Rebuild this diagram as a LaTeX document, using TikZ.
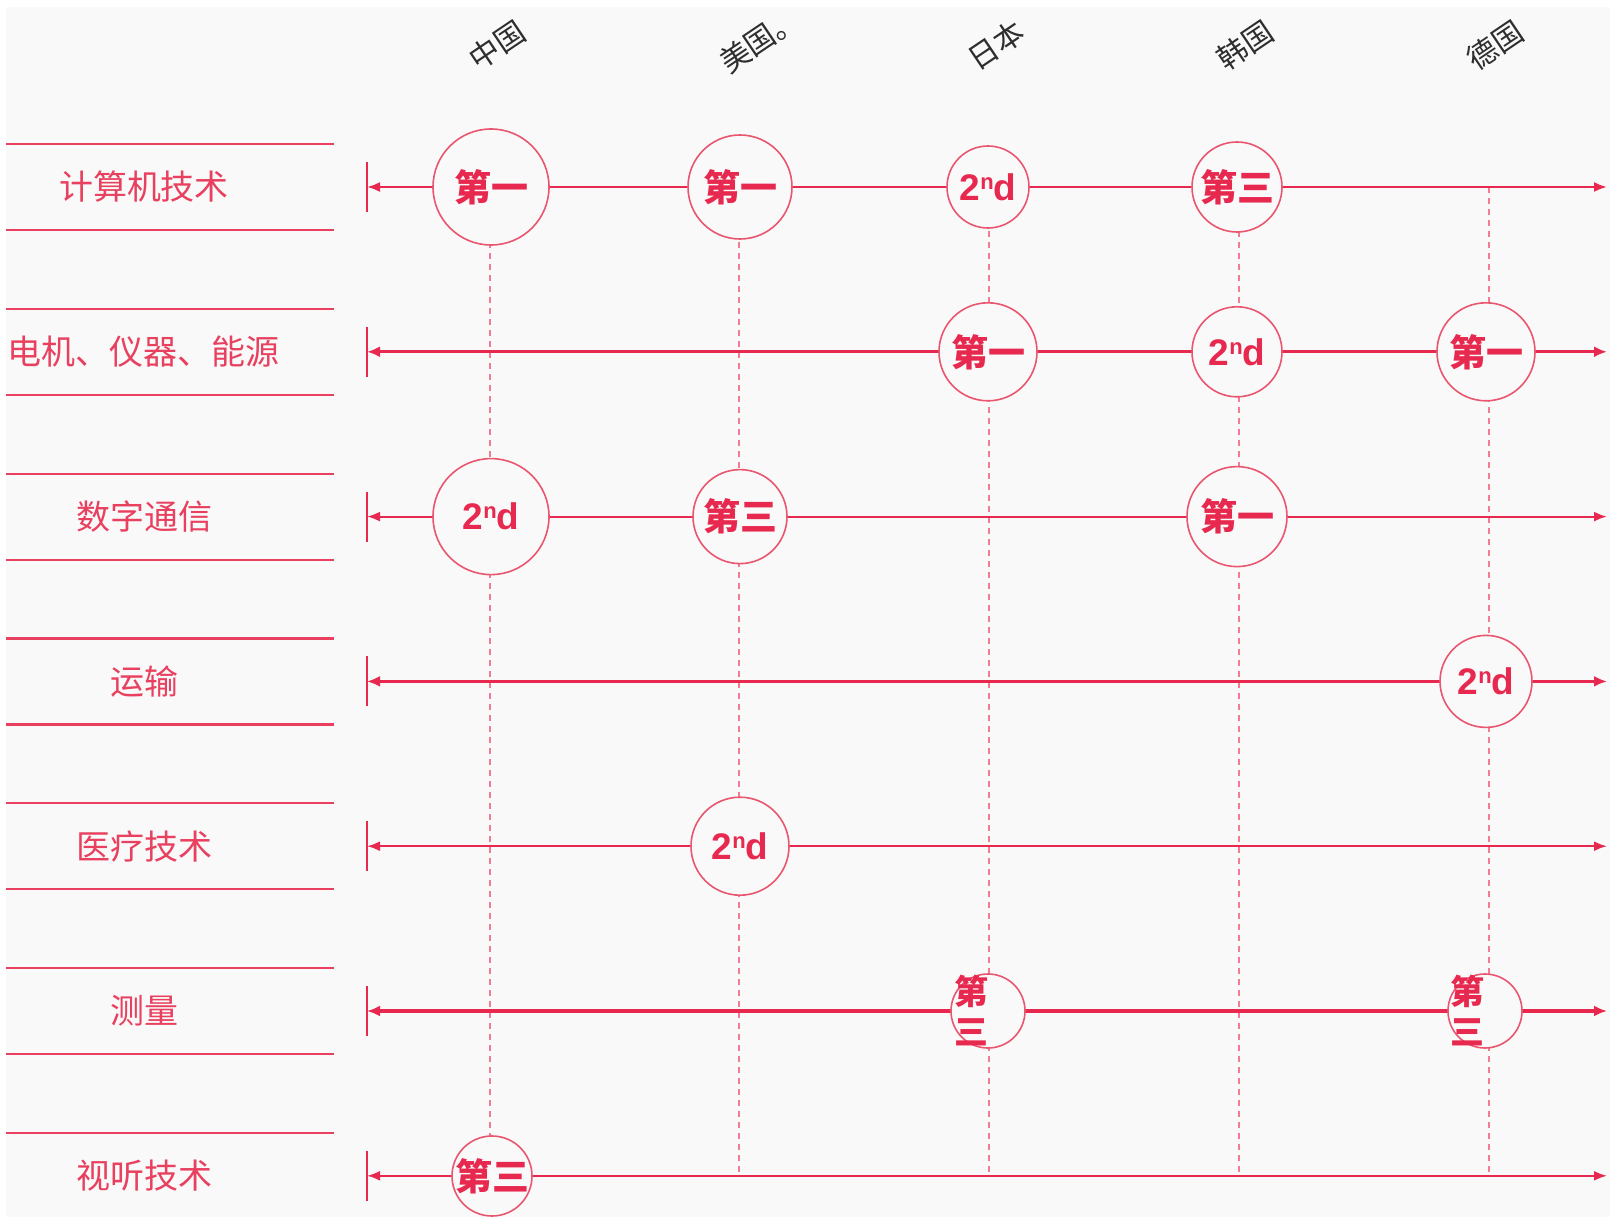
\documentclass[tikz,border=0pt]{standalone}
\usepackage{fontspec}
\newfontfamily\cjk{Noto Sans CJK SC}
\newfontfamily\lat{Liberation Sans}
\usetikzlibrary{arrows.meta}
\definecolor{bg}{HTML}{F9F9F9}
\definecolor{rl}{HTML}{E8294F}
\definecolor{rc}{HTML}{E9566F}
\definecolor{rd}{HTML}{F27D93}
\definecolor{rt}{HTML}{E8405E}
\definecolor{hd}{HTML}{2E2E2E}
\newcommand\ndtxt{{\lat\bfseries 2\raisebox{11pt}{\fontsize{22}{22}\selectfont n}d}}
\tikzset{
  rowlab/.style={font=\cjk\fontsize{34}{34}\selectfont, text=rt, inner sep=0pt},
  hdr/.style={font=\cjk\fontsize{30}{30}\selectfont, text=hd, rotate=34, inner sep=0pt},
  sepline/.style={draw=rt, line width=2.2pt},
  stopbar/.style={draw=rl, line width=2.4pt},
  axisthin/.style={draw=rl, line width=2.2pt, {Latex[length=13pt,width=10pt]}-{Latex[length=13pt,width=10pt]}},
  axisthick/.style={draw=rl, line width=3.3pt, {Latex[length=13pt,width=11pt]}-{Latex[length=13pt,width=11pt]}},
  vdash/.style={draw=rd, line width=1.3pt, dash pattern=on 6pt off 5pt},
  rank/.style={circle, draw=rc, line width=1.6pt, fill=bg, minimum size=#1, inner sep=0pt},
  rtxt/.style={text=rl, inner sep=0pt, font=\cjk\bfseries\fontsize{37}{37}\selectfont},
  rtxtv/.style={text=rl, inner sep=0pt, align=center, font=\cjk\bfseries\fontsize{34}{40}\selectfont},
}
\begin{document}
\begin{tikzpicture}[x=1pt,y=-1pt]
\useasboundingbox (0,0) rectangle (1610,1217);
\fill[white] (0,0) rectangle (1610,1217);
\fill[bg] (6,7) rectangle (1610,1217);

% column headers
\node[hdr] (h1) at (497,45) {中国};
\node[hdr] (h2) at (760,40) {美国。};
\node[hdr] (h3) at (996,45) {日本};
\node[hdr] (h4) at (1245,45) {韩国};
\node[hdr] (h5) at (1495,45) {德国};

% row labels and separator lines
\foreach \y/\lab [count=\i] in {187/计算机技术, 351.8/电机、仪器、能源, 516.6/数字通信, 681.4/运输, 846.2/医疗技术, 1011/测量, 1175.8/视听技术}{
  \node[rowlab] (lab\i) at (144,\y) {\lab};
  \draw[sepline] (6,\y-43) -- (334,\y-43);
}
\foreach \y in {187, 351.8, 516.6, 681.4, 846.2, 1011}{
  \draw[sepline] (6,\y+43) -- (334,\y+43);
}

% column coordinates and dashed verticals
\foreach \x [count=\j] in {490,739,989,1239,1489}{
  \coordinate (T\j) at (\x,187);
  \coordinate (B\j) at (\x,1175.8);
  \draw[vdash] (T\j) -- (B\j);
}

% row axes
\foreach \y [count=\i] in {187, 351.8, 516.6, 681.4, 846.2, 1011, 1175.8}{
  \coordinate (L\i) at (367,\y);
  \coordinate (R\i) at (1607,\y);
  \draw[stopbar] (367,\y-25) -- (367,\y+25);
}
\draw[axisthin] (L1) -- (R1);
\draw[axisthick] (L2) -- (R2);
\draw[axisthin] (L3) -- (R3);
\draw[axisthick] (L4) -- (R4);
\draw[axisthin] (L5) -- (R5);
\draw[axisthick] (L6) -- (R6);
\draw[axisthin] (L7) -- (R7);

% row 1
\node[rank=116pt] (c1a) at (491,187) {};
\node[rank=104pt] (c1b) at (740,187) {};
\node[rank=82pt] (c1c) at (988,187) {};
\node[rank=90pt] (c1d) at (1237,187) {};
\node[rtxt] (t1a) at (c1a) {第一};
\node[rtxt] (t1b) at (c1b) {第一};
\node[rtxt] (t1c) at (c1c) {\ndtxt};
\node[rtxt] (t1d) at (c1d) {第三};
% row 2
\node[rank=98pt] (c2a) at (988,351.8) {};
\node[rank=90pt] (c2b) at (1237,351.8) {};
\node[rank=98pt] (c2c) at (1486,351.8) {};
\node[rtxt] (t2a) at (c2a) {第一};
\node[rtxt] (t2b) at (c2b) {\ndtxt};
\node[rtxt] (t2c) at (c2c) {第一};
% row 3
\node[rank=116pt] (c3a) at (491,516.6) {};
\node[rank=94pt] (c3b) at (740,516.6) {};
\node[rank=100pt] (c3c) at (1237,516.6) {};
\node[rtxt] (t3a) at (c3a) {\ndtxt};
\node[rtxt] (t3b) at (c3b) {第三};
\node[rtxt] (t3c) at (c3c) {第一};
% row 4
\node[rank=92pt] (c4a) at (1486,681.4) {};
\node[rtxt] (t4a) at (c4a) {\ndtxt};
% row 5
\node[rank=98pt] (c5a) at (740,846.2) {};
\node[rtxt] (t5a) at (c5a) {\ndtxt};
% row 6
\node[rank=74pt] (c6a) at (988,1011) {};
\node[rank=74pt] (c6b) at (1485,1011) {};
\node[rtxtv] (t6a) at (971,1011) {第\\三};
\node[rtxtv] (t6b) at (1467,1011) {第\\三};
% row 7
\node[rank=80pt] (c7a) at (492,1176) {};
\node[rtxt] (t7a) at (c7a) {第三};
\end{tikzpicture}
\end{document}
